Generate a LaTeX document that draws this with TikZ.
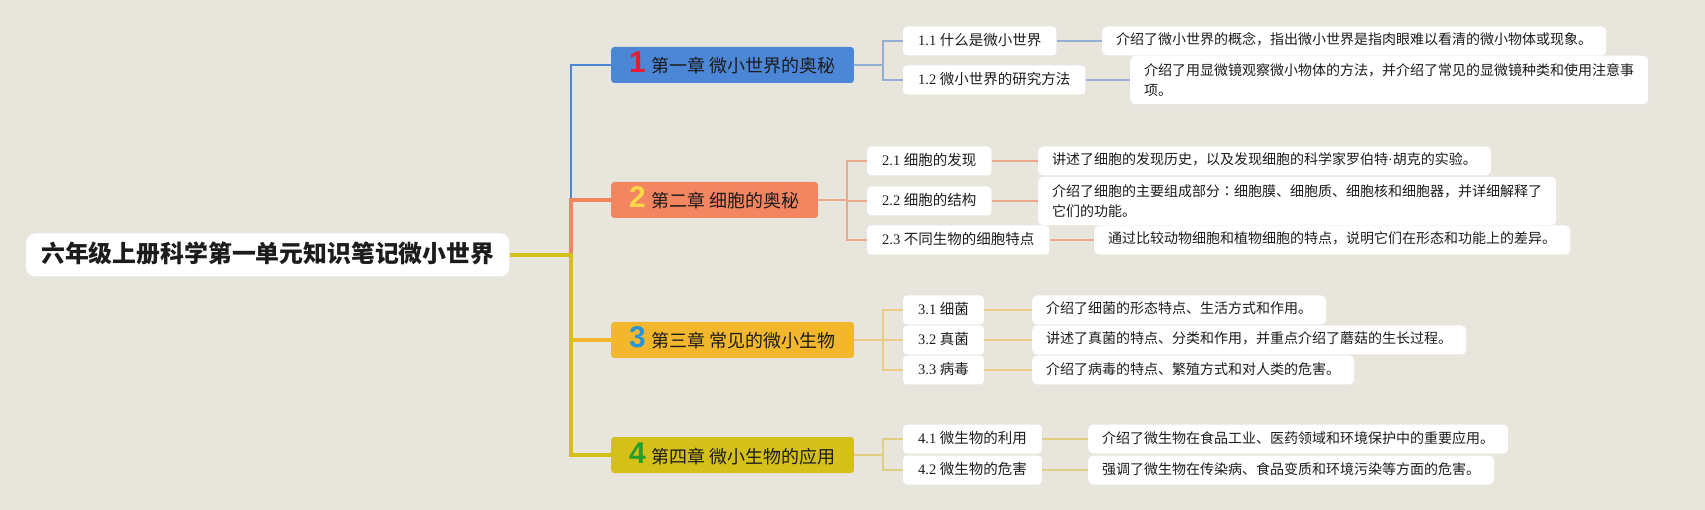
\documentclass[tikz,border=0pt]{standalone}
\usepackage{fontspec}
\usepackage{tikz}
\usepackage{xcolor}
\setmainfont{Liberation Serif}
\newfontfamily\cjk{Noto Sans CJK SC}
\newfontfamily\cjktc{Noto Sans CJK TC}
\newfontfamily\numfont{Liberation Sans}

\definecolor{bgcol}{RGB}{232,229,221}
\definecolor{inkcol}{RGB}{28,28,28}
\definecolor{chblue}{RGB}{76,134,214}
\definecolor{chsalmon}{RGB}{243,133,96}
\definecolor{chorange}{RGB}{242,183,44}
\definecolor{cholive}{RGB}{213,192,26}
\definecolor{lnblue}{RGB}{148,174,214}
\definecolor{lnsalmon}{RGB}{238,168,142}
\definecolor{lnorange}{RGB}{236,204,130}
\definecolor{lnolive}{RGB}{222,208,128}
\definecolor{numred}{RGB}{222,32,52}
\definecolor{numyellow}{RGB}{250,214,72}
\definecolor{numblue}{RGB}{38,150,214}
\definecolor{numgreen}{RGB}{36,158,44}

\newcommand{\chapnum}[2]{{\numfont\bfseries\fontsize{30pt}{30pt}\selectfont\textcolor{#1}{#2}}\hspace{6pt}}

\begin{document}
\begin{tikzpicture}[x=1pt,y=-1pt,text=inkcol]
  \tikzstyle{rootbox}=[fill=white,rounded corners=9pt,anchor=west,inner xsep=15pt,inner ysep=8pt,
    text height=21pt,text depth=6pt,font=\cjk\bfseries\fontsize{23.85pt}{30pt}\selectfont]
  \tikzstyle{chapbox}=[rounded corners=3pt,anchor=west,inner xsep=18pt,inner ysep=6pt,
    text height=20pt,text depth=4pt,font=\cjk\fontsize{18pt}{21pt}\selectfont]
  \tikzstyle{subbox}=[fill=white,rounded corners=4pt,anchor=west,inner xsep=15pt,inner ysep=7.25pt,
    text height=11.3pt,text depth=3.2pt,font=\fontsize{14.5pt}{17pt}\selectfont]
  \tikzstyle{descbase}=[fill=white,rounded corners=5pt,anchor=west,inner xsep=14pt,
    font=\cjk\fontsize{14pt}{20.5pt}\selectfont]
  \tikzstyle{descbox}=[descbase,inner ysep=7.5pt,text height=11pt,text depth=3pt]
  \tikzstyle{desctwo}=[descbase,inner ysep=7.5pt,align=left]
  \tikzstyle{trunk}=[line cap=butt,line join=miter]
  \tikzstyle{subline}=[line width=2pt,line join=miter]

  \useasboundingbox (0,0) rectangle (1705,510);
  \fill[bgcol] (0,0) rectangle (1705,510);

  \node[rootbox]               (root) at (26,255)  {六年级上册科学第一单元知识笔记微小世界};

  \node[chapbox,fill=chblue]   (ch1)  at (611,65)  {\chapnum{numred}{1}第一章 微小世界的奥秘};
  \node[chapbox,fill=chsalmon] (ch2)  at (611,200) {\chapnum{numyellow}{2}第二章 细胞的奥秘};
  \node[chapbox,fill=chorange] (ch3)  at (611,340) {\chapnum{numblue}{3}第三章 常见的微小生物};
  \node[chapbox,fill=cholive]  (ch4)  at (611,455) {\chapnum{numgreen}{4}第四章 微小生物的应用};

  \node[subbox] (s11) at (903,41)  {1.1 {\cjk 什么是微小世界}};
  \node[subbox] (s12) at (903,80)  {1.2 {\cjk 微小世界的研究方法}};
  \node[subbox] (s21) at (867,161) {2.1 {\cjk 细胞的发现}};
  \node[subbox] (s22) at (867,201) {2.2 {\cjk 细胞的结构}};
  \node[subbox] (s23) at (867,240) {2.3 {\cjk 不同生物的细胞特点}};
  \node[subbox] (s31) at (903,310) {3.1 {\cjk 细菌}};
  \node[subbox] (s32) at (903,340) {3.2 {\cjk 真菌}};
  \node[subbox] (s33) at (903,370) {3.3 {\cjk 病毒}};
  \node[subbox] (s41) at (903,439) {4.1 {\cjk 微生物的利用}};
  \node[subbox] (s42) at (903,470) {4.2 {\cjk 微生物的危害}};

  \node[descbox] (d11) at (1102,41)  {介绍了微小世界的概念，指出微小世界是指肉眼难以看清的微小物体或现象。};
  \node[desctwo] (d12) at (1130,80)  {介绍了用显微镜观察微小物体的方法，并介绍了常见的显微镜种类和使用注意事\\项。};
  \node[descbox] (d21) at (1038,161) {讲述了细胞的发现历史，以及发现细胞的科学家罗伯特{\rmfamily ·}胡克的实验。};
  \node[desctwo] (d22) at (1038,201) {介绍了细胞的主要组成部分{\cjktc ：}细胞膜、细胞质、细胞核和细胞器，并详细解释了\\它们的功能。};
  \node[descbox] (d23) at (1094,240) {通过比较动物细胞和植物细胞的特点，说明它们在形态和功能上的差异。};
  \node[descbox] (d31) at (1032,310) {介绍了细菌的形态特点、生活方式和作用。};
  \node[descbox] (d32) at (1032,340) {讲述了真菌的特点、分类和作用，并重点介绍了蘑菇的生长过程。};
  \node[descbox] (d33) at (1032,370) {介绍了病毒的特点、繁殖方式和对人类的危害。};
  \node[descbox] (d41) at (1088,439) {介绍了微生物在食品工业、医药领域和环境保护中的重要应用。};
  \node[descbox] (d42) at (1088,470) {强调了微生物在传染病、食品变质和环境污染等方面的危害。};

  \coordinate (hub) at (571,255);
  \coordinate (j1)  at (883,65);
  \coordinate (j2)  at (847,200);
  \coordinate (j3)  at (883,340);
  \coordinate (j4)  at (883,455);

  \draw[trunk,line width=2.5pt,chblue]   (hub) |- (ch1.west);
  \draw[trunk,line width=3.5pt,chsalmon] (hub) |- (ch2.west);
  \draw[trunk,line width=3.5pt,chorange] (hub) |- (ch3.west);
  \draw[trunk,line width=4.5pt,cholive]  (root.east) -- (hub) |- (ch4.west);

  \draw[subline,lnblue]   (ch1.east) -- (j1) |- (s11.west);
  \draw[subline,lnblue]   (j1) |- (s12.west);
  \draw[subline,lnsalmon] (ch2.east) -- (j2) |- (s21.west);
  \draw[subline,lnsalmon] (j2) |- (s22.west);
  \draw[subline,lnsalmon] (j2) |- (s23.west);
  \draw[subline,lnorange] (ch3.east) -- (j3) |- (s31.west);
  \draw[subline,lnorange] (j3) |- (s32.west);
  \draw[subline,lnorange] (j3) |- (s33.west);
  \draw[subline,lnolive]  (ch4.east) -- (j4) |- (s41.west);
  \draw[subline,lnolive]  (j4) |- (s42.west);

  \draw[subline,lnblue]   (s11.east) -- (d11.west);
  \draw[subline,lnblue]   (s12.east) -- (d12.west);
  \draw[subline,lnsalmon] (s21.east) -- (d21.west);
  \draw[subline,lnsalmon] (s22.east) -- (d22.west);
  \draw[subline,lnsalmon] (s23.east) -- (d23.west);
  \draw[subline,lnorange] (s31.east) -- (d31.west);
  \draw[subline,lnorange] (s32.east) -- (d32.west);
  \draw[subline,lnorange] (s33.east) -- (d33.west);
  \draw[subline,lnolive]  (s41.east) -- (d41.west);
  \draw[subline,lnolive]  (s42.east) -- (d42.west);
\end{tikzpicture}
\end{document}
